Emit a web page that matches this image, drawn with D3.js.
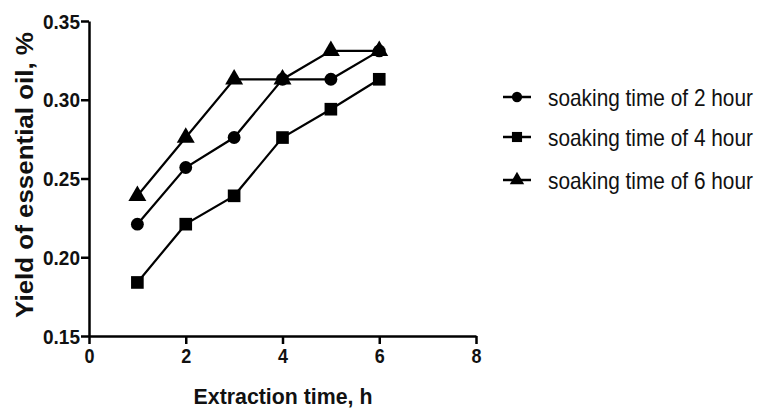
<!DOCTYPE html>
<html>
<head>
<meta charset="utf-8">
<script src="https://cdn.jsdelivr.net/npm/d3@7"></script>
<style>
  body { margin: 0; background: #fff; }
  svg { display: block; }
</style>
</head>
<body>
<div id="chart"></div>
<script>
const hours = [1, 2, 3, 4, 5, 6];
const soak2 = [0.221, 0.257, 0.276, 0.313, 0.313, 0.331];
const soak4 = [0.184, 0.221, 0.239, 0.276, 0.294, 0.313];
const soak6 = [0.239, 0.276, 0.313, 0.313, 0.331, 0.331];
const seriesNames = ['soaking time of 2 hour', 'soaking time of 4 hour', 'soaking time of 6 hour'];
const xTicks = [0, 2, 4, 6, 8];
const yTicks = [0.15, 0.20, 0.25, 0.30, 0.35];

const W = 758, H = 413;
const margin = { top: 21, left: 89, right: 282, bottom: 77 };
const font = 'Liberation Sans, Arial, sans-serif';

const svg = d3.select('#chart').append('svg')
  .attr('width', W).attr('height', H);

const x = d3.scaleLinear().domain([0, 8]).range([margin.left, W - margin.right]);
const y = d3.scaleLinear().domain([0.15, 0.35]).range([H - margin.bottom, margin.top]);

// horizontal scale factor that makes a text `w` px long
function squeeze(text, w) {
  return w / text.node().getComputedTextLength();
}

// axes
const xAxis = svg.append('g')
  .attr('transform', `translate(0,${H - margin.bottom})`)
  .call(d3.axisBottom(x).tickValues(xTicks).tickFormat(d3.format('d')).tickSize(8).tickSizeOuter(0));
const yAxis = svg.append('g')
  .attr('transform', `translate(${margin.left},0)`)
  .call(d3.axisLeft(y).tickValues(yTicks).tickFormat(d3.format('.2f')).tickSize(8).tickSizeOuter(0));

[xAxis, yAxis].forEach(g => {
  g.selectAll('path, line').attr('stroke', '#000').attr('stroke-width', 2.5);
  g.selectAll('text')
    .attr('fill', '#111')
    .attr('font-family', font)
    .attr('font-weight', 'bold')
    .attr('font-size', 20);
});
xAxis.selectAll('text').attr('y', 11).attr('dy', '0.8em')
  .attr('transform', function () { return `scale(${Math.min(1, squeeze(d3.select(this), 10))},1)`; });
yAxis.selectAll('text').attr('x', 0).attr('dy', '0.36em')
  .attr('transform', function () { return `translate(-9,0) scale(${squeeze(d3.select(this), 37)},1)`; });

const xTitle = svg.append('text')
  .attr('text-anchor', 'middle')
  .attr('font-family', font)
  .attr('font-weight', 'bold').attr('font-size', 22)
  .attr('fill', '#111')
  .text('Extraction time, h');
xTitle.attr('transform', `translate(283,404) scale(${squeeze(xTitle, 179)},1)`);

const yTitle = svg.append('text')
  .attr('text-anchor', 'middle')
  .attr('font-family', font)
  .attr('font-weight', 'bold').attr('font-size', 23)
  .attr('fill', '#111')
  .text('Yield of essential oil, %');
yTitle.attr('transform', `translate(33,175) rotate(-90) scale(${squeeze(yTitle, 286)},1)`);

// series
const allSeries = [soak2, soak4, soak6];
const symbols = [
  d3.symbol().type(d3.symbolCircle).size(130),
  d3.symbol().type(d3.symbolSquare).size(160),
  d3.symbol().type(d3.symbolTriangle).size(140)
];
const line = d3.line().x(d => x(d[0])).y(d => y(d[1]));

allSeries.forEach((vals, i) => {
  const pts = hours.map((h, j) => [h, vals[j]]);
  svg.append('path')
    .datum(pts)
    .attr('d', line)
    .attr('fill', 'none')
    .attr('stroke', '#000')
    .attr('stroke-width', 2.2);
  svg.selectAll(null)
    .data(pts)
    .enter().append('path')
    .attr('d', symbols[i])
    .attr('transform', d => `translate(${x(d[0])},${y(d[1])})`)
    .attr('fill', '#000');
});

// legend
const legendY = [97, 137, 180];
const legend = svg.append('g');
seriesNames.forEach((name, i) => {
  const g = legend.append('g').attr('transform', `translate(503,${legendY[i]})`);
  g.append('line').attr('x1', 0).attr('x2', 28).attr('y1', 0).attr('y2', 0)
    .attr('stroke', '#000').attr('stroke-width', 2.5);
  g.append('path').attr('d', symbols[i]).attr('transform', 'translate(14,0) scale(0.8)').attr('fill', '#000');
  const t = g.append('text')
    .attr('x', 0).attr('y', 0).attr('dy', '0.36em')
    .attr('font-family', font)
    .attr('font-size', 24)
    .attr('fill', '#111')
    .text(name);
  t.attr('transform', `translate(45,0) scale(${squeeze(t, 205)},1)`);
});
</script>
</body>
</html>
